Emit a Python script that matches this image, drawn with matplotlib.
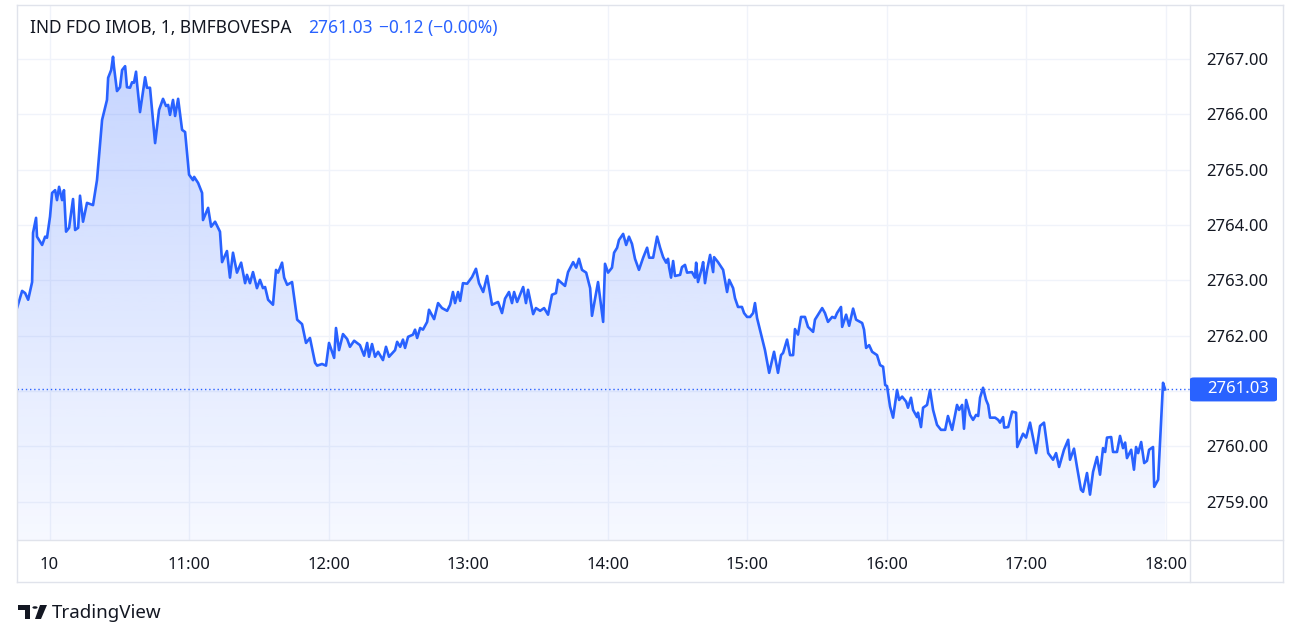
import numpy as np
import matplotlib
matplotlib.use("Agg")
import matplotlib.pyplot as plt
from matplotlib.patches import Polygon, Rectangle, FancyBboxPatch
from matplotlib.lines import Line2D
from matplotlib.colors import LinearSegmentedColormap

plt.rcParams['font.family'] = ['Noto Sans', 'DejaVu Sans']

# minutes after 10:00 and index level (1-minute chart)
minutes = [
    -14.0, -11.8, -10.5, -9.2, -7.5, -7.1, -5.8, -5.4, -3.2, -1.9, -1.1, 0.2, 1.1, 2.4, 3.2, 4.1,
    5.4, 6.2, 7.1, 8.4, 10.1, 11.0, 12.3, 13.1, 14.4, 16.1, 18.7, 20.4, 22.6, 24.7, 25.2, 26.5,
    27.3, 27.7, 29.0, 30.3, 31.2, 32.5, 33.3, 34.6, 35.5, 36.3, 37.2, 37.6, 38.9, 41.1, 41.9, 43.2,
    45.4, 47.1, 48.8, 50.1, 51.0, 51.8, 53.1, 54.0, 55.3, 57.0, 58.3, 60.0, 61.7, 62.2, 63.9, 65.6,
    66.0, 68.2, 69.5, 71.2, 73.3, 74.2, 76.3, 77.6, 78.9, 80.6, 82.4, 84.1, 84.9, 86.2, 87.5, 89.2,
    90.5, 91.8, 92.7, 94.0, 96.1, 97.4, 98.3, 100.0, 100.9, 102.2, 104.3, 106.5, 108.6, 110.3, 112.0, 114.2,
    115.1, 117.2, 118.9, 120.2, 122.4, 123.2, 124.5, 126.2, 128.0, 129.2, 131.0, 133.5, 135.3, 136.6, 137.4, 138.7,
    140.0, 141.3, 143.4, 144.7, 146.0, 148.6, 149.5, 150.8, 152.0, 152.9, 154.2, 156.3, 157.2, 158.1, 159.4, 160.6,
    162.4, 163.2, 165.4, 167.1, 168.8, 171.0, 172.3, 173.5, 174.4, 175.7, 176.6, 177.8, 179.6, 181.7, 183.4, 184.7,
    186.5, 188.2, 190.3, 192.9, 194.6, 195.9, 197.6, 198.9, 199.8, 201.1, 203.7, 204.9, 205.8, 208.0, 209.2, 211.0,
    212.7, 214.4, 216.1, 217.8, 218.7, 221.7, 223.0, 225.2, 226.5, 227.7, 229.0, 230.8, 232.5, 233.3, 235.9, 238.1,
    238.9, 240.2, 241.9, 242.8, 244.1, 244.9, 246.7, 248.0, 249.2, 250.5, 251.8, 253.5, 255.3, 257.0, 257.9, 259.6,
    261.3, 262.6, 263.9, 265.2, 266.0, 266.5, 267.3, 268.2, 269.0, 271.2, 272.0, 273.3, 274.2, 276.3, 277.6, 278.1,
    278.9, 280.6, 281.1, 281.9, 282.8, 284.1, 285.4, 285.8, 287.5, 289.7, 291.4, 292.3, 294.0, 294.8, 296.1, 297.8,
    298.7, 300.0, 301.3, 302.6, 303.4, 304.3, 306.9, 307.7, 309.5, 311.6, 313.3, 314.6, 315.5, 317.2, 318.5, 319.8,
    320.6, 321.9, 323.2, 324.9, 326.2, 328.4, 329.2, 332.3, 333.5, 334.8, 336.6, 337.8, 338.7, 340.4, 340.9, 342.6,
    343.9, 345.6, 346.9, 349.5, 350.3, 351.2, 352.5, 353.8, 355.9, 357.2, 358.5, 359.4, 360.2, 361.5, 362.8, 364.5,
    365.4, 366.7, 368.4, 369.2, 370.5, 371.4, 373.1, 373.5, 374.8, 375.7, 377.4, 378.7, 380.0, 381.7, 383.4, 385.2,
    386.4, 388.2, 390.3, 391.2, 392.5, 393.3, 394.2, 395.9, 397.2, 398.5, 399.4, 400.2, 401.5, 402.8, 403.7, 404.5,
    406.7, 408.0, 408.8, 410.1, 410.6, 412.3, 414.0, 415.7, 416.2, 418.7, 420.0, 421.7, 424.3, 426.0, 427.7, 429.5,
    431.6, 432.9, 434.2, 436.3, 438.1, 438.9, 440.6, 441.9, 443.6, 444.5, 446.2, 447.5, 448.8, 450.5, 451.8, 453.1,
    454.0, 454.8, 456.6, 457.4, 459.1, 460.4, 461.7, 462.6, 463.4, 465.2, 466.4, 467.3, 468.2, 469.5, 470.8, 472.0,
    472.9, 474.6, 475.1, 476.8, 478.9, 479.8,
]
prices = [
    2762.50, 2762.81, 2762.77, 2762.65, 2762.97, 2763.86, 2764.13, 2763.79, 2763.64, 2763.79, 2763.77, 2764.15, 2764.58, 2764.63, 2764.45, 2764.69,
    2764.45, 2764.63, 2763.88, 2763.95, 2764.47, 2763.91, 2763.95, 2764.53, 2764.06, 2764.40, 2764.36, 2764.81, 2765.90, 2766.26, 2766.66, 2766.80,
    2767.04, 2766.86, 2766.42, 2766.49, 2766.80, 2766.87, 2766.49, 2766.48, 2766.58, 2766.57, 2766.77, 2766.57, 2766.04, 2766.67, 2766.48, 2766.48,
    2765.48, 2766.08, 2766.28, 2766.15, 2766.17, 2765.99, 2766.26, 2765.97, 2766.28, 2765.72, 2765.68, 2764.91, 2764.81, 2764.87, 2764.76, 2764.58,
    2764.09, 2764.31, 2763.97, 2764.06, 2763.88, 2763.33, 2763.53, 2763.05, 2763.50, 2763.14, 2763.32, 2762.95, 2763.10, 2762.95, 2763.15, 2762.86,
    2763.01, 2762.86, 2762.88, 2762.65, 2762.56, 2763.19, 2763.14, 2763.32, 2763.05, 2762.92, 2762.97, 2762.29, 2762.21, 2761.87, 2761.96, 2761.51,
    2761.46, 2761.49, 2761.46, 2761.87, 2761.60, 2762.14, 2761.74, 2762.03, 2761.94, 2761.80, 2761.91, 2761.83, 2761.64, 2761.87, 2761.62, 2761.85,
    2761.62, 2761.71, 2761.56, 2761.80, 2761.62, 2761.74, 2761.89, 2761.80, 2761.93, 2761.78, 2761.98, 2762.02, 2762.11, 2761.96, 2762.14, 2762.11,
    2762.25, 2762.47, 2762.30, 2762.59, 2762.50, 2762.45, 2762.56, 2762.79, 2762.59, 2762.79, 2762.63, 2762.95, 2762.94, 2763.06, 2763.21, 2762.95,
    2762.79, 2763.08, 2762.56, 2762.61, 2762.41, 2762.67, 2762.79, 2762.59, 2762.79, 2762.61, 2762.88, 2762.59, 2762.83, 2762.39, 2762.50, 2762.45,
    2762.50, 2762.38, 2762.74, 2762.77, 2763.01, 2762.90, 2763.15, 2763.33, 2763.23, 2763.39, 2763.19, 2763.14, 2762.86, 2762.36, 2762.97, 2762.25,
    2763.30, 2763.14, 2763.23, 2763.50, 2763.59, 2763.73, 2763.84, 2763.64, 2763.79, 2763.66, 2763.39, 2763.19, 2763.41, 2763.59, 2763.41, 2763.41,
    2763.79, 2763.59, 2763.42, 2763.32, 2763.39, 2763.23, 2763.05, 2763.35, 2763.08, 2763.10, 2763.24, 2763.28, 2763.14, 2763.15, 2763.05, 2763.32,
    2762.97, 2763.23, 2763.33, 2762.95, 2763.19, 2763.46, 2763.15, 2763.42, 2763.33, 2763.19, 2762.79, 2763.01, 2762.86, 2762.68, 2762.52, 2762.52,
    2762.41, 2762.34, 2762.34, 2762.41, 2762.59, 2762.32, 2761.87, 2761.74, 2761.33, 2761.71, 2761.33, 2761.65, 2761.69, 2761.93, 2761.65, 2761.65,
    2762.12, 2762.02, 2762.34, 2762.34, 2762.16, 2762.07, 2762.29, 2762.50, 2762.41, 2762.25, 2762.34, 2762.32, 2762.41, 2762.52, 2762.16, 2762.38,
    2762.18, 2762.49, 2762.29, 2762.23, 2762.11, 2761.78, 2761.83, 2761.71, 2761.65, 2761.47, 2761.44, 2761.11, 2761.09, 2760.72, 2760.52, 2761.02,
    2760.84, 2760.90, 2760.81, 2760.70, 2760.88, 2760.66, 2760.53, 2760.61, 2760.35, 2760.70, 2760.75, 2761.02, 2760.66, 2760.39, 2760.30, 2760.30,
    2760.55, 2760.30, 2760.75, 2760.66, 2760.75, 2760.32, 2760.84, 2760.57, 2760.48, 2760.57, 2760.55, 2760.88, 2761.06, 2760.84, 2760.75, 2760.52,
    2760.52, 2760.48, 2760.43, 2760.53, 2760.34, 2760.35, 2760.63, 2760.61, 2759.99, 2760.23, 2760.16, 2760.43, 2759.88, 2760.37, 2760.43, 2759.88,
    2759.76, 2759.88, 2759.63, 2759.94, 2760.12, 2759.76, 2759.96, 2759.63, 2759.22, 2759.18, 2759.52, 2759.13, 2759.54, 2759.81, 2759.49, 2759.97,
    2759.90, 2760.16, 2760.17, 2759.90, 2759.90, 2760.19, 2759.97, 2760.07, 2759.79, 2759.94, 2759.58, 2759.99, 2759.88, 2760.08, 2759.70, 2759.74,
    2759.94, 2759.99, 2759.27, 2759.40, 2761.15, 2761.03,
]

price_ticks = [2759, 2760, 2761, 2762, 2763, 2764, 2765, 2766, 2767]
hour_ticks = [0, 60, 120, 180, 240, 300, 360, 420, 480]
hour_labels = ["10", "11:00", "12:00", "13:00", "14:00", "15:00", "16:00", "17:00", "18:00"]
last_price = 2761.03
change = "\u22120.12 (\u22120.00%)"
title = "IND FDO IMOB, 1, BMFBOVESPA"

W, H = 1316, 637
blue = "#2962ff"
grid_c = "#f0f3fa"
border_c = "#e0e3eb"
text_c = "#131722"

fig = plt.figure(figsize=(W / 100, H / 100), dpi=100)
fig.patch.set_facecolor("white")


def fx(x):
    return x / W


def fy(y):
    return 1 - y / H


ax = fig.add_axes([fx(17), fy(540), (1190 - 17) / W, (540 - 5) / H])
ax.set_xlim(-14, 490.5)
ax.set_ylim(2758.31, 2767.975)

t = np.array(minutes)
p = np.array(prices)
y0 = ax.get_ylim()[0]

# gradient area under the line
poly = Polygon(np.vstack([[t[0], y0], np.column_stack([t, p]), [t[-1], y0]]),
               closed=True, facecolor="none", edgecolor="none")
ax.add_patch(poly)
cmap = LinearSegmentedColormap.from_list(
    "tvfill", [(41 / 255, 98 / 255, 1, 0.04), (41 / 255, 98 / 255, 1, 0.27)])
grad = np.linspace(0, 1, 256).reshape(-1, 1)
im = ax.imshow(grad, extent=[t[0], t[-1], y0, p.max()], origin="lower",
               aspect="auto", cmap=cmap, zorder=1, interpolation="bilinear")
im.set_clip_path(poly)

ax.plot(t, p, color=blue, lw=1.9, zorder=3, solid_joinstyle="round")
ax.axhline(last_price, color=blue, lw=1, ls=(0, (1, 2)), zorder=2)

# the 2761.00 label is hidden behind the last-price badge
ax.set_yticks(price_ticks)
ax.set_yticklabels(["" if v == 2761 else f"{v:.2f}" for v in price_ticks])
ax.set_xticks(hour_ticks)
ax.set_xticklabels(hour_labels)
ax.xaxis.get_ticklabels()[0].set_fontweight("bold")
ax.yaxis.tick_right()
ax.tick_params(axis="y", length=0, pad=12, labelsize=12, labelcolor=text_c)
ax.tick_params(axis="x", length=0, pad=12, labelsize=12, labelcolor=text_c)
ax.grid(True, color=grid_c, lw=1)
ax.set_axisbelow(True)
for s in ax.spines.values():
    s.set_visible(False)

# frame lines of the chart widget
for (xa, ya, xb, yb) in [(17, 5, 1283, 5), (17, 582, 1283, 582), (17, 5, 17, 582),
                         (1283, 5, 1283, 582), (17, 540, 1283, 540), (1190, 5, 1190, 582)]:
    fig.add_artist(Line2D([fx(xa), fx(xb)], [fy(ya), fy(yb)], color=border_c, lw=1))

# last price badge on the price scale
ybadge = ax.transData.transform((0, last_price))[1]
fig.add_artist(FancyBboxPatch((fx(1190), (ybadge - 12) / H), 87 / W, 24 / H,
                              boxstyle="round,pad=0,rounding_size=0.003",
                              transform=fig.transFigure, fc=blue, ec="none", zorder=5))
fig.text(fx(1207), ybadge / H, f"{last_price:.2f}", color="white", fontsize=12,
         va="center", ha="left", zorder=6)

# legend line at the top
fig.text(fx(30), fy(28), title, fontsize=12.5, color=text_c, va="center", ha="left")
fig.text(fx(308), fy(28), f"{last_price:.2f}", fontsize=12.5, color=blue, va="center", ha="left")
fig.text(fx(379), fy(28), change, fontsize=12.5, color=blue, va="center", ha="left")

# TradingView mark
fig.add_artist(Rectangle((fx(18), fy(610)), 12 / W, 5 / H, transform=fig.transFigure, fc=text_c, ec="none"))
fig.add_artist(Rectangle((fx(25), fy(619)), 5 / W, 10 / H, transform=fig.transFigure, fc=text_c, ec="none"))
fig.add_artist(plt.Circle((fx(35), fy(607.5)), 2.6 / W, transform=fig.transFigure, fc=text_c, ec="none"))
fig.add_artist(Polygon([[fx(40), fy(605)], [fx(47), fy(605)], [fx(41), fy(619)], [fx(35), fy(619)]],
                       closed=True, transform=fig.transFigure, fc=text_c, ec="none"))
fig.text(fx(52), fy(613), "TradingView", fontsize=13.5, color=text_c, va="center", ha="left")

fig.savefig("out.png", dpi=100, facecolor="white")
